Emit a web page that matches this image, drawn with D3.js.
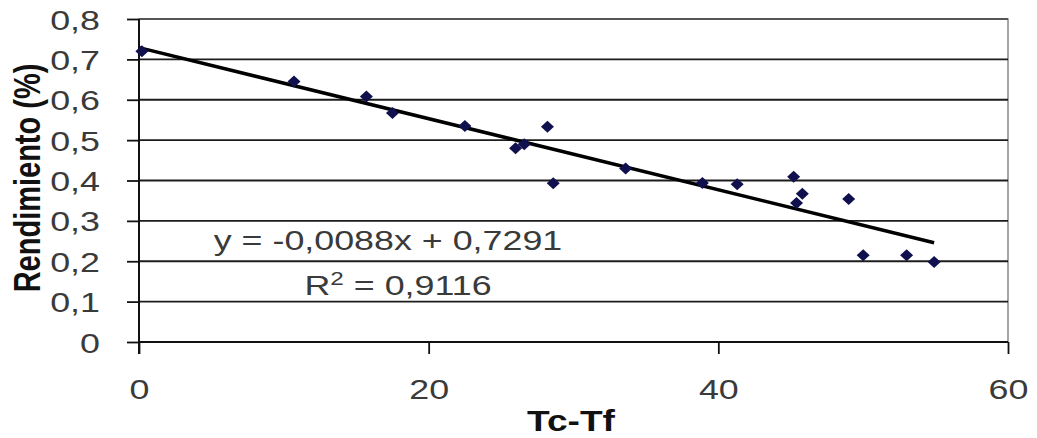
<!DOCTYPE html>
<html>
<head>
<meta charset="utf-8">
<script src="https://cdn.jsdelivr.net/npm/d3@7"></script>
<style>
  body { margin: 0; background: #fff; }
  svg { display: block; font-family: "Liberation Sans", Arial, sans-serif; }
</style>
</head>
<body>
<svg id="chart" width="1037" height="438"></svg>
<script>
// measured points (Tc-Tf, rendimiento)
const tcTf = [0.2, 10.7, 15.7, 17.5, 22.5, 26.0, 26.6, 28.2, 28.6, 33.6, 38.9, 41.3, 45.2, 45.8, 45.4, 49.0, 50.0, 53.0, 54.9];
const rendimiento = [0.72, 0.645, 0.608, 0.567, 0.535, 0.48, 0.49, 0.533, 0.393, 0.430, 0.394, 0.391, 0.409, 0.367, 0.344, 0.354, 0.215, 0.215, 0.198];

const xTicks = [0, 20, 40, 60];
const yTicks = [0, 0.1, 0.2, 0.3, 0.4, 0.5, 0.6, 0.7, 0.8];

const slope = -0.0088;
const intercept = 0.7291;
const eqLabel = "y = -0,0088x + 0,7291";
const r2Value = "0,9116";

const svg = d3.select("#chart");
const stretch = 1.28; // picture is stretched sideways
const textColor = "#3a3a3a";

const x = d3.scaleLinear().domain([0, 60]).range([139, 1008]);
const y = d3.scaleLinear().domain([0, 0.8]).range([342, 19]);
const comma = d => d3.format("")(d).replace(".", ",");

// plot border
svg.append("rect")
    .attr("x", x(0)).attr("y", y(0.8))
    .attr("width", x(60) - x(0)).attr("height", y(0) - y(0.8))
    .attr("fill", "none").attr("stroke", "#888").attr("stroke-width", 1.5);

// gridlines
svg.append("g").selectAll("line")
    .data(yTicks.filter(d => d > 0))
    .join("line")
    .attr("x1", x(0)).attr("x2", x(60))
    .attr("y1", d => y(d)).attr("y2", d => y(d))
    .attr("stroke", d => d === 0.8 ? "#555" : "#1c1c1c")
    .attr("stroke-width", 1.8);

// y axis
const yAxis = svg.append("g")
    .attr("transform", `translate(${x(0)},0)`)
    .call(d3.axisLeft(y).tickValues(yTicks).tickSize(12).tickSizeOuter(0).tickFormat(comma));
yAxis.select(".domain").attr("stroke", "#111").attr("stroke-width", 2)
    .attr("d", `M0,${y(0.8)}V${y(0) + 12}`);
yAxis.selectAll(".tick line").attr("stroke", "#111").attr("stroke-width", 1.8);
yAxis.selectAll(".tick text")
    .attr("x", 0).attr("dy", "0.36em")
    .attr("transform", `translate(-39,0) scale(${stretch},1)`)
    .style("font-size", "28px").attr("fill", textColor);

// x axis
const xAxis = svg.append("g")
    .attr("transform", `translate(0,${y(0)})`)
    .call(d3.axisBottom(x).tickValues(xTicks).tickSize(12).tickSizeOuter(0).tickFormat(d3.format("")));
xAxis.select(".domain").attr("stroke", "#111").attr("stroke-width", 2)
    .attr("d", `M${x(0)},0H${x(60)}`);
xAxis.selectAll(".tick line").attr("stroke", "#111").attr("stroke-width", 1.8);
xAxis.selectAll(".tick text")
    .attr("y", 0).attr("dy", 0)
    .attr("transform", `translate(0,57) scale(${stretch},1)`)
    .style("font-size", "28px").attr("fill", textColor);

// trend line
const trend = [d3.min(tcTf) - 0.2, d3.max(tcTf)].map(v => [v, intercept + slope * v]);
svg.append("path")
    .datum(trend)
    .attr("d", d3.line().x(d => x(d[0])).y(d => y(d[1])))
    .attr("stroke", "#000").attr("stroke-width", 3.5).attr("fill", "none");

// markers
svg.append("g").selectAll("path")
    .data(tcTf.map((v, i) => [v, rendimiento[i]]))
    .join("path")
    .attr("transform", d => `translate(${x(d[0])},${y(d[1])})`)
    .attr("d", "M0,-6L6.5,0L0,6L-6.5,0Z")
    .attr("fill", "#10104e");

// equation
const eq = svg.append("g").attr("transform", `translate(388,250) scale(${stretch},1)`);
eq.append("text").attr("text-anchor", "middle")
    .style("font-size", "28px").attr("fill", textColor)
    .text(eqLabel);
const r2 = svg.append("g").attr("transform", `translate(398,295) scale(${stretch},1)`)
    .append("text").attr("text-anchor", "middle")
    .style("font-size", "28px").attr("fill", textColor);
r2.append("tspan").text("R");
r2.append("tspan").attr("dy", -10).style("font-size", "19px").text("2");
r2.append("tspan").attr("dy", 10).text(" = " + r2Value);

// axis titles
svg.append("g").attr("transform", `translate(571,431) scale(${stretch},1)`)
    .append("text").attr("text-anchor", "middle")
    .style("font-size", "29px").style("font-weight", "bold").attr("fill", "#111")
    .text("Tc-Tf");

svg.append("g").attr("transform", `translate(40,178) scale(${stretch},1) rotate(-90)`)
    .append("text").attr("text-anchor", "middle")
    .style("font-size", "29px").style("font-weight", "bold").attr("fill", "#111")
    .text("Rendimiento (%)");
</script>
</body>
</html>
